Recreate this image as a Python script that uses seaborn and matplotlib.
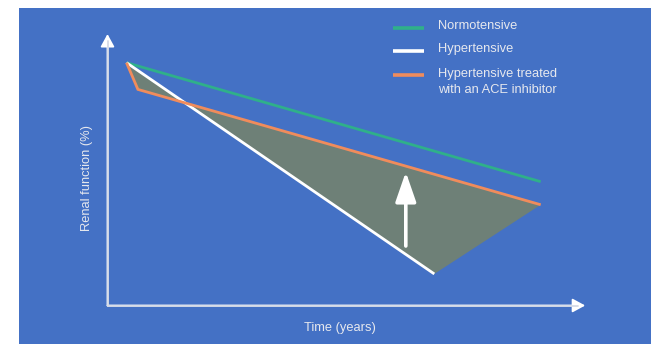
import numpy as np
import pandas as pd
import matplotlib
matplotlib.use("Agg")
import matplotlib.pyplot as plt
import seaborn as sns

# Time (years) and renal function (%) for each course
normo_t = [0.5, 11.4]
normo_y = [100, 51]
hyper_t = [0.5, 8.6]
hyper_y = [100, 13]
ace_t = [0.5, 0.8, 11.4]
ace_y = [100, 89, 41.5]

# Benefit arrow (years, % from -> %)
gain_t = 7.85
gain_from = 24.5
gain_to = 55

series_names = ["Normotensive", "Hypertensive", "Hypertensive treated\nwith an ACE inhibitor"]
series_colors = ["#2FB08A", "#FFFFFF", "#F08C5C"]

x_axis_end = 12.57
y_axis_end = 111.8

BLUE = "#4471C5"
AXIS_GREY = "#D4DAE6"
TEXT = "#E6E8EE"
FILL = "#6E8077"

sns.set_theme(style="white")
plt.rcParams["font.family"] = ["Liberation Sans", "DejaVu Sans"]

df = pd.concat([
    pd.DataFrame({"t": normo_t, "y": normo_y, "s": series_names[0]}),
    pd.DataFrame({"t": hyper_t, "y": hyper_y, "s": series_names[1]}),
    pd.DataFrame({"t": ace_t, "y": ace_y, "s": series_names[2]}),
], ignore_index=True)

fig = plt.figure(figsize=(6.51, 3.44), dpi=100)
fig.patch.set_facecolor("white")
W, H = 651, 344
ax = fig.add_axes([19 / W, 0, 1 - 19 / W, (H - 8) / H])
ax.set_facecolor(BLUE)
for sp in ax.spines.values():
    sp.set_visible(False)
ax.set_xticks([])
ax.set_yticks([])

# pixel-based scale: 38 px per year, 2.428 px per percent, origin at (107.5, 305.5)
PX_T, PX_Y, X0, Y0 = 38.0, 2.428, 107.5, 305.5
def tx(px):
    return (px - X0) / PX_T
def ty(py):
    return (Y0 - py) / PX_Y

ax.set_xlim(tx(19), tx(651))
ax.set_ylim(ty(344), ty(8))

# shaded region between untreated and treated hypertensive courses
poly_t = ace_t + [hyper_t[1]]
poly_y = ace_y + [hyper_y[1]]
ax.fill(poly_t, poly_y, color=FILL, lw=0, zorder=1)

palette = dict(zip(series_names, series_colors))
sns.lineplot(data=df, x="t", y="y", hue="s", palette=palette, sort=False,
             estimator=None, linewidth=2.0, legend=False, ax=ax, zorder=3)
for line in ax.lines:
    line.set_solid_joinstyle("miter")
    line.set_solid_capstyle("butt")

# axes drawn as arrows
arrow_kw = dict(arrowstyle="-|>,head_length=0.55,head_width=0.3",
                lw=1.3, shrinkA=0, shrinkB=0, mutation_scale=14,
                facecolor="white", edgecolor="white")
ax.annotate("", xy=(x_axis_end, 0), xytext=(0, 0), arrowprops=arrow_kw, zorder=2)
ax.annotate("", xy=(0, y_axis_end), xytext=(0, 0), arrowprops=arrow_kw, zorder=2)
ax.plot([0, x_axis_end - 0.2], [0, 0], color=AXIS_GREY, lw=1.3, zorder=2)
ax.plot([0, 0], [0, y_axis_end - 3], color=AXIS_GREY, lw=1.3, zorder=2)

# improvement arrow
ax.annotate("", xy=(gain_t, gain_to), xytext=(gain_t, gain_from),
            arrowprops=dict(arrowstyle="-|>,head_length=1.3,head_width=0.45",
                            color="white", lw=2.6, shrinkA=0, shrinkB=0,
                            mutation_scale=14), zorder=4)

ax.text(tx(340), ty(328), "Time (years)",
        ha="center", va="center", fontsize=9.3, color=TEXT)
ax.text(tx(87), ty(178), "Renal function (%)",
        ha="center", va="center", rotation=90, fontsize=9.3, color=TEXT)

# legend
leg_px_y = [28, 51, 75]
for name, col, py in zip(series_names, series_colors, leg_px_y):
    ax.plot([tx(392.5), tx(424)], [ty(py), ty(py)], color=col, lw=2.6,
            solid_capstyle="butt")
    if "\n" in name:
        ax.text(tx(438), ty(py - 7.0), name, ha="left", va="top",
                multialignment="left", fontsize=9.3, color=TEXT, linespacing=1.45)
    else:
        ax.text(tx(438), ty(py - 2.3), name, ha="left", va="center",
                fontsize=9.3, color=TEXT)

fig.savefig("out.png", dpi=100, facecolor="white")
